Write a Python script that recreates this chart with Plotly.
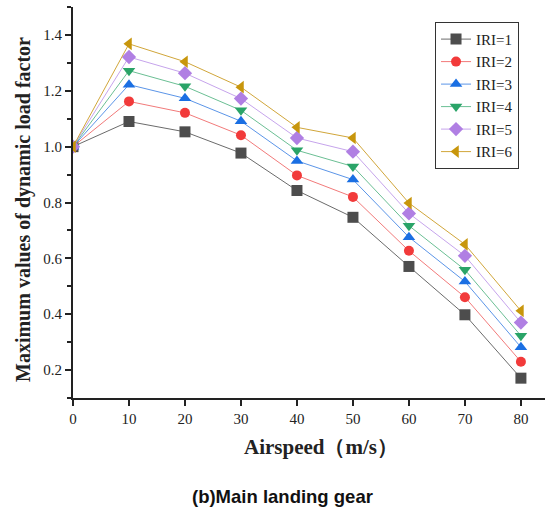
import plotly.graph_objects as go

airspeed = [0, 10, 20, 30, 40, 50, 60, 70, 80]
iri1 = [1.0, 1.090, 1.053, 0.977, 0.843, 0.747, 0.571, 0.398, 0.171]
iri2 = [1.0, 1.162, 1.121, 1.041, 0.897, 0.820, 0.627, 0.461, 0.230]
iri3 = [1.0, 1.222, 1.173, 1.091, 0.949, 0.882, 0.676, 0.517, 0.282]
iri4 = [1.0, 1.272, 1.216, 1.130, 0.987, 0.929, 0.717, 0.559, 0.323]
iri5 = [1.0, 1.321, 1.263, 1.172, 1.031, 0.982, 0.761, 0.609, 0.370]
iri6 = [1.0, 1.368, 1.304, 1.213, 1.069, 1.031, 0.798, 0.650, 0.412]
names = ["IRI=1", "IRI=2", "IRI=3", "IRI=4", "IRI=5", "IRI=6"]
series = [iri1, iri2, iri3, iri4, iri5, iri6]

colors = ["#4d4d4d", "#f23a3a", "#1a6fe3", "#2aa468", "#b07fe3", "#c8960c"]
line_colors = ["#6b6b6b", "#f27a7a", "#5b95e8", "#6bbf94", "#c6a4ec", "#d1a63a"]
symbols = ["square", "circle", "triangle-up", "triangle-down", "diamond", "triangle-left"]

fig = go.Figure()
for name, ys, c, lc, s in zip(names, series, colors, line_colors, symbols):
    fig.add_trace(go.Scatter(
        x=airspeed, y=ys, name=name, mode="lines+markers",
        line=dict(color=lc, width=1),
        marker=dict(color=c, symbol=s, size=11 if s != "circle" else 10),
    ))

serif = "Liberation Serif, Times New Roman, serif"
fig.update_layout(
    width=545, height=508,
    margin=dict(l=73, r=0, t=7, b=110),
    paper_bgcolor="white", plot_bgcolor="white",
    showlegend=True,
    legend=dict(
        x=0.767, y=0.962, xanchor="left", yanchor="top",
        bordercolor="#333333", borderwidth=1, bgcolor="white",
        font=dict(family=serif, size=15, color="#222222"),
        tracegroupgap=0, itemwidth=30,
    ),
    xaxis=dict(
        range=[0, 84.3], tickvals=[0, 10, 20, 30, 40, 50, 60, 70, 80],
        showline=True, linecolor="#222222", linewidth=2,
        ticks="outside", ticklen=6, tickwidth=2, tickcolor="#222222",
        showgrid=False, zeroline=False,
        tickfont=dict(family=serif, size=15, color="#222222"),
    ),
    yaxis=dict(
        range=[0.1, 1.5], tickvals=[0.2, 0.4, 0.6, 0.8, 1.0, 1.2, 1.4],
        ticktext=["0.2", "0.4", "0.6", "0.8", "1.0", "1.2", "1.4"],
        showline=True, linecolor="#222222", linewidth=2,
        ticks="outside", ticklen=6, tickwidth=2, tickcolor="#222222",
        minor=dict(tickvals=[0.1, 0.3, 0.5, 0.7, 0.9, 1.1, 1.3, 1.5], ticks="outside", ticklen=4, tickwidth=2, tickcolor="#222222"),
        showgrid=False, zeroline=False,
        tickfont=dict(family=serif, size=15, color="#222222"),
    ),
    annotations=[
        dict(text="<b>Maximum values of dynamic load factor</b>", xref="paper", yref="paper",
             x=(24 - 73) / 472, y=(398 - 210) / 391, xanchor="center", yanchor="middle",
             textangle=-90, showarrow=False,
             font=dict(family=serif, size=20, color="#222222")),
        dict(text="<b>Airspeed（m/s）</b>", xref="paper", yref="paper",
             x=(321 - 73) / 472, y=(398 - 447) / 391, xanchor="center", yanchor="middle",
             showarrow=False, font=dict(family=serif, size=21, color="#222222")),
        dict(text="<b>(b)Main landing gear</b>", xref="paper", yref="paper",
             x=(282 - 73) / 472, y=(398 - 496) / 391, xanchor="center", yanchor="middle",
             showarrow=False, font=dict(family="Liberation Sans, Arial, sans-serif", size=18.5, color="#111111")),
    ],
)

fig.write_html("out.html")
